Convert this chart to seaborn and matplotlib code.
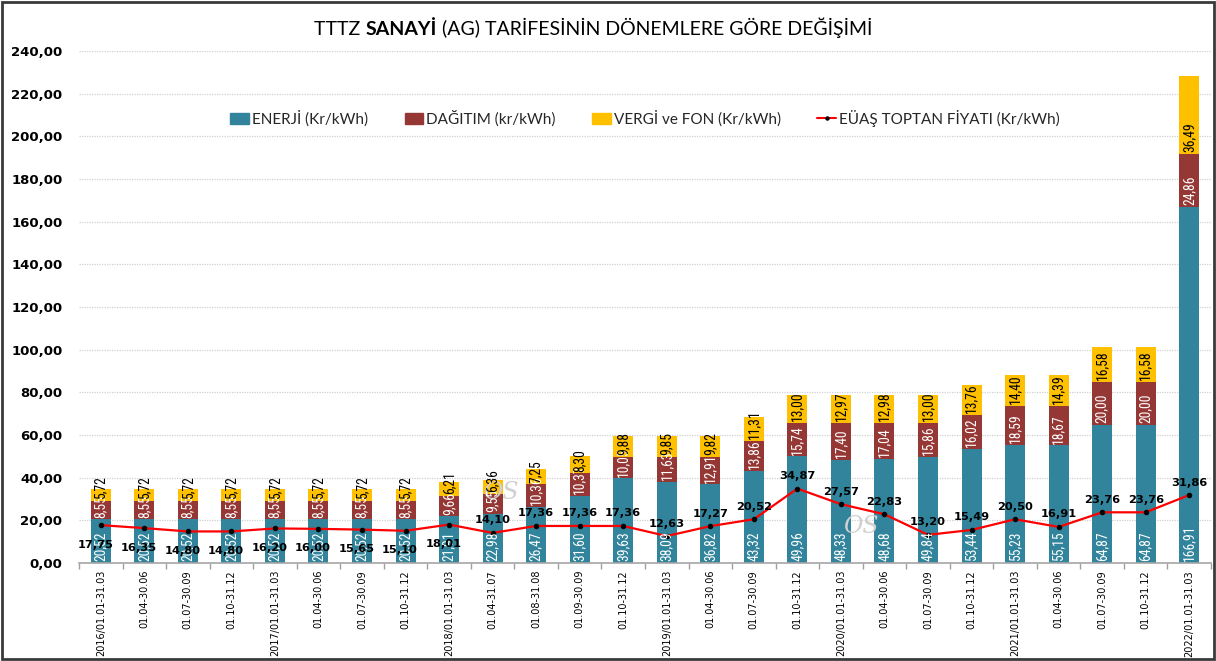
import numpy as np
import pandas as pd
import matplotlib
matplotlib.use("Agg")
import matplotlib.pyplot as plt
import seaborn as sns
from matplotlib import font_manager as fm
from matplotlib.offsetbox import TextArea, HPacker, AnchoredOffsetbox
from matplotlib.patches import Patch, Rectangle
from matplotlib.lines import Line2D
from matplotlib.ticker import FuncFormatter, FixedLocator

periods = [
    "2016/01.01-31.03", "01.04-30.06", "01.07-30.09", "01.10-31.12",
    "2017/01.01-31.03", "01.04-30.06", "01.07-30.09", "01.10-31.12",
    "2018/01.01-31.03", "01.04-31.07", "01.08-31.08", "01.09-30.09", "01.10-31.12",
    "2019/01.01-31.03", "01.04-30.06", "01.07-30.09", "01.10-31.12",
    "2020/01.01-31.03", "01.04-30.06", "01.07-30.09", "01.10-31.12",
    "2021/01.01-31.03", "01.04-30.06", "01.07-30.09", "01.10-31.12",
    "2022/01.01-31.03",
]
energy = [20.52, 20.52, 20.52, 20.52, 20.52, 20.52, 20.52, 20.52,
          21.91, 22.98, 26.47, 31.60, 39.63, 38.09, 36.82, 43.32, 49.96,
          48.33, 48.68, 49.84, 53.44, 55.23, 55.15, 64.87, 64.87, 166.91]
distribution = [8.55, 8.55, 8.55, 8.55, 8.55, 8.55, 8.55, 8.55,
                9.66, 9.55, 10.36, 10.37, 10.05, 11.63, 12.91, 13.86, 15.74,
                17.40, 17.04, 15.86, 16.02, 18.59, 18.67, 20.00, 20.00, 24.86]
tax = [5.72, 5.72, 5.72, 5.72, 5.72, 5.72, 5.72, 5.72,
       6.21, 6.36, 7.25, 8.30, 9.88, 9.85, 9.82, 11.31, 13.00,
       12.97, 12.98, 13.00, 13.76, 14.40, 14.39, 16.58, 16.58, 36.49]
euas = [17.75, 16.35, 14.80, 14.80, 16.20, 16.00, 15.65, 15.10,
        18.01, 14.10, 17.36, 17.36, 17.36, 12.63, 17.27, 20.52, 34.87,
        27.57, 22.83, 13.20, 15.49, 20.50, 16.91, 23.76, 23.76, 31.86]

legend_labels = ["ENERJİ (Kr/kWh)", "DAĞITIM (kr/kWh)", "VERGİ ve FON (Kr/kWh)",
                 "EÜAŞ TOPTAN FİYATI (Kr/kWh)"]

C_E, C_D, C_T, C_L = "#31849B", "#953735", "#FFC000", "#FF0000"

def fmt(v):
    return f"{v:.2f}".replace(".", ",")

# pick a narrow font for bar labels if one is installed
fonts = fm.fontManager.ttflist
names = {f.name for f in fonts}
bar_font = {"family": ["DejaVu Sans"], "fontsize": 7.0}
for cand in ["Liberation Sans Narrow", "Arial Narrow", "Roboto Condensed",
             "Open Sans Condensed", "Noto Sans Condensed", "DejaVu Sans Condensed"]:
    if cand in names:
        bar_font = {"family": [cand, "DejaVu Sans"], "fontsize": 9.8}
        break
else:
    if any(f.name == "DejaVu Sans" and f.stretch == "condensed" for f in fonts):
        bar_font = {"family": ["DejaVu Sans"], "fontsize": 8.0,
                    "fontstretch": "condensed"}

n = len(periods)
df = pd.DataFrame({"idx": np.arange(n), "energy": energy,
                   "dist": distribution, "tax": tax, "euas": euas})
df["lvl2"] = df["energy"] + df["dist"]
df["total"] = df["lvl2"] + df["tax"]

sns.set_theme(style="white")
plt.rcParams["font.family"] = ["DejaVu Sans"]

fig = plt.figure(figsize=(12.16, 6.61), dpi=100)
ax = fig.add_axes([79 / 1216, 98 / 661, 1132 / 1216, 512 / 661])

bw = 0.46
sns.barplot(data=df, x="idx", y="total", color=C_T, width=bw, saturation=1,
            ax=ax, edgecolor="none", errorbar=None)
sns.barplot(data=df, x="idx", y="lvl2", color=C_D, width=bw, saturation=1,
            ax=ax, edgecolor="none", errorbar=None)
sns.barplot(data=df, x="idx", y="energy", color=C_E, width=bw, saturation=1,
            ax=ax, edgecolor="none", errorbar=None)
sns.lineplot(x=df["idx"], y=df["euas"], color=C_L, linewidth=1.6, marker="o",
             markersize=3.2, markerfacecolor="black", markeredgecolor="black",
             ax=ax, zorder=5)

ax.set_xlim(-0.5, n - 0.5)
ax.set_ylim(0, 240)
ax.set_xlabel("")
ax.set_ylabel("")

# bar segment labels (anchored at segment base)
for i in range(n):
    ax.text(i, 0.8, fmt(energy[i]), rotation=90, ha="center", va="bottom",
            color="white", zorder=6, **bar_font)
    ax.text(i, energy[i] + 0.8, fmt(distribution[i]), rotation=90, ha="center",
            va="bottom", color="white", zorder=6, **bar_font)
    ax.text(i, energy[i] + distribution[i] + 0.8, fmt(tax[i]), rotation=90,
            ha="center", va="bottom", color="black", zorder=6, **bar_font)
    off = (-4, -14) if i < 9 else (0, 9)
    ax.annotate(fmt(euas[i]), (i, euas[i]), xytext=off,
                textcoords="offset points", ha="center", va="center",
                fontsize=8.2, fontweight="bold", color="black", zorder=7)

# watermark
for (wx, wy) in [(9.2, 33), (17.45, 17)]:
    ax.text(wx, wy, "OS", color="#D0D0D0", fontsize=17, style="italic",
            family="DejaVu Serif", ha="center", va="center", zorder=4)

# axes styling
ax.set_yticks(np.arange(0, 241, 20))
ax.yaxis.set_major_formatter(FuncFormatter(lambda v, p: fmt(v)))
ax.tick_params(axis="y", length=0, pad=12, labelsize=9.5, labelcolor="black")
for lab in ax.get_yticklabels():
    lab.set_fontweight("bold")
ax.yaxis.grid(True, color="#D0D0D0", linestyle=(0, (1, 1)), linewidth=0.9)
ax.xaxis.grid(False)
ax.set_axisbelow(True)

ax.set_xticks(np.arange(n))
ax.set_xticklabels(periods, rotation=90, fontsize=7.0, color="black")
ax.tick_params(axis="x", which="major", length=0, pad=5)
ax.xaxis.set_minor_locator(FixedLocator(np.arange(-0.5, n, 1)))
ax.tick_params(axis="x", which="minor", bottom=True, length=4, width=1,
               color="#A0A0A0", direction="out")

for s in ["left", "right", "top"]:
    ax.spines[s].set_visible(False)
ax.spines["bottom"].set_color("#A6A6A6")
ax.spines["bottom"].set_linewidth(1.2)

# legend
handles = [Patch(color=C_E, label=legend_labels[0]),
           Patch(color=C_D, label=legend_labels[1]),
           Patch(color=C_T, label=legend_labels[2]),
           Line2D([0], [0], color=C_L, lw=1.5, marker="o", markersize=2.2,
                  markerfacecolor="black", markeredgecolor="black",
                  label=legend_labels[3])]
ax.legend(handles=handles, loc="center", bbox_to_anchor=(0.5, 0.869), ncol=4,
          frameon=False, prop={"family": "Lato", "size": 11},
          handlelength=1.2, handleheight=0.7, handletextpad=0.2,
          columnspacing=2.4)

# title with bold part
tp = {"family": "Lato", "size": 14, "color": "black"}
box = HPacker(children=[
    TextArea("TTTZ ", textprops=tp),
    TextArea("SANAYİ", textprops={**tp, "weight": "bold"}),
    TextArea(" (AG) TARİFESİNİN DÖNEMLERE GÖRE DEĞİŞİMİ", textprops=tp),
], align="baseline", pad=0, sep=0)
fig.add_artist(AnchoredOffsetbox(loc="center", child=box, pad=0, frameon=False,
                                 borderpad=0, bbox_to_anchor=(0.4877, 0.958),
                                 bbox_transform=fig.transFigure))

# outer frame
fig.add_artist(Rectangle((0.002, 0.003), 0.996, 0.994, transform=fig.transFigure,
                         fill=False, edgecolor="#3a3a3a", linewidth=2))

fig.savefig("out.png", dpi=100, facecolor="white")
